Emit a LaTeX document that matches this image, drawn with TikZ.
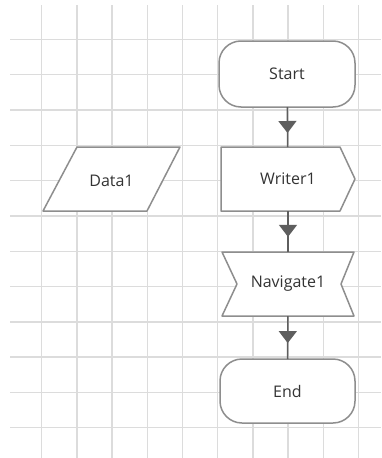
\documentclass[tikz,border=0pt]{standalone}
\usepackage{fontspec}
\setmainfont{Open Sans}
\usetikzlibrary{calc,arrows.meta,decorations.markings}
\definecolor{gridc}{HTML}{DCDCDC}
\definecolor{shapec}{HTML}{8E8E8E}
\definecolor{connc}{HTML}{5E5E5E}
\definecolor{textc}{HTML}{333333}
\tikzset{
  gridline/.style={draw=gridc, line width=1.4pt},
  box/.style={inner sep=0pt, outer sep=0pt, text=textc, font=\fontsize{16}{19}\selectfont},
  outline/.style={draw=shapec, fill=white, line width=1.5pt, line join=round},
  conn/.style={draw=connc, line width=1.5pt, postaction={decorate},
    decoration={markings, mark=at position #1 with {\arrow[connc]{Triangle[width=18pt,length=12pt]}}}},
}
\begin{document}
\begin{tikzpicture}[x=1pt,y=-1pt]
\useasboundingbox (0,0) rectangle (381,458);
\fill[white] (0,0) rectangle (381,458);
% grid
\foreach \i in {0,...,11} {
  \draw[gridline] (10,{39.5+35.29*\i}) -- (381,{39.5+35.29*\i});
}
\foreach \i in {0,...,9} {
  \draw[gridline] ({41.7+35.2*\i},5) -- ({41.7+35.2*\i},458);
}
% nodes (shapes)
\node[box, minimum width=136pt, minimum height=66pt] (start) at (287,74) {};
\node[box, minimum width=134pt, minimum height=64pt] (writer) at (288,179) {};
\node[box, minimum width=132pt, minimum height=64pt] (nav) at (288,284) {};
\node[box, minimum width=135pt, minimum height=64pt] (end) at (287.5,391) {};
\node[box, minimum width=137pt, minimum height=64pt] (data) at (111.5,179) {};
% outlines
\draw[outline, rounded corners=22pt] (start.north west) rectangle (start.south east);
\draw[outline, rounded corners=22pt] (end.north west) rectangle (end.south east);
\draw[outline] (writer.north west) -- ($(writer.north east)+(-15,0)$) -- (writer.east)
  -- ($(writer.south east)+(-15,0)$) -- (writer.south west) -- cycle;
\draw[outline] (nav.north west) -- (nav.north east) -- ($(nav.east)+(-13,0)$)
  -- (nav.south east) -- (nav.south west) -- ($(nav.west)+(15,0)$) -- cycle;
\draw[outline] ($(data.north west)+(34,0)$) -- (data.north east)
  -- ($(data.south east)+(-33,0)$) -- (data.south west) -- cycle;
% labels
\node[box] at (start) {Start};
\node[box] at (writer) {Writer1};
\node[box] at (nav) {Navigate1};
\node[box] at (end) {End};
\node[box] at (111.5,181) {Data1};
% connectors
\draw[conn=0.65] (start) -- (writer);
\draw[conn=0.63] (writer) -- (nav);
\draw[conn=0.63] (nav) -- (end);
\end{tikzpicture}
\end{document}
